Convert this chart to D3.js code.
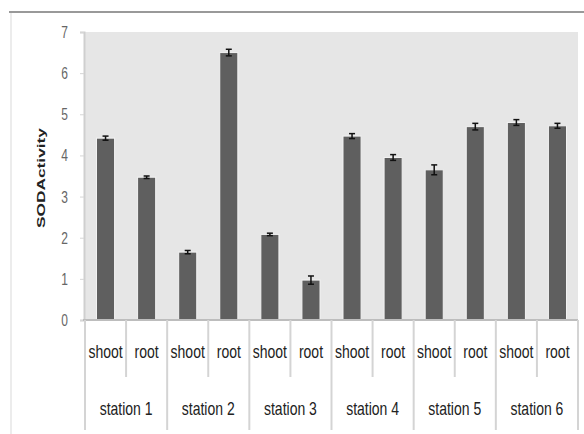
<!DOCTYPE html>
<html>
<head>
<meta charset="utf-8">
<script src="https://cdn.jsdelivr.net/npm/d3@7"></script>
<style>
  body { margin: 0; background: #fff; }
  svg text { font-family: "Liberation Sans Narrow", "Liberation Sans", Arial, sans-serif; }
</style>
</head>
<body>
<div id="chart"></div>
<script>
// chart data
var stations = ["station 1", "station 2", "station 3", "station 4", "station 5", "station 6"];
var parts = ["shoot", "root"];
var values = [4.42, 3.47, 1.65, 6.5, 2.08, 0.97, 4.47, 3.95, 3.65, 4.7, 4.8, 4.72];
var errors = [0.05, 0.03, 0.04, 0.08, 0.03, 0.1, 0.06, 0.07, 0.12, 0.08, 0.07, 0.06];
var yTicks = [0, 1, 2, 3, 4, 5, 6, 7];
var yLabel = "SODActivity";

var W = 584, H = 434;
var plot = {left: 85, right: 578, top: 32, bottom: 320};

var svg = d3.select("#chart").append("svg")
    .attr("width", W)
    .attr("height", H);

// frame lines of the picture
svg.append("line")
    .attr("x1", 9).attr("x2", W)
    .attr("y1", 12).attr("y2", 12)
    .style("stroke", "#999").style("stroke-width", 2);
svg.append("line")
    .attr("x1", 11).attr("x2", 11)
    .attr("y1", 13).attr("y2", H)
    .style("stroke", "#ececec").style("stroke-width", 2);

// one key per bar
var keys = [];
stations.forEach(function(s, i) {
    parts.forEach(function(p, j) { keys.push(i + "-" + j); });
});

var x = d3.scaleBand()
    .domain(keys)
    .range([plot.left, plot.right])
    .paddingInner(0.56)
    .paddingOuter(0.28);

var y = d3.scaleLinear()
    .domain([0, 7])
    .range([plot.bottom, plot.top]);

// plot background
svg.append("rect")
    .attr("x", plot.left).attr("y", plot.top)
    .attr("width", plot.right - plot.left)
    .attr("height", plot.bottom - plot.top)
    .style("fill", "#e6e6e6");

// y axis
var yAxis = svg.append("g")
    .attr("transform", "translate(" + (plot.left - 1) + ",0)")
    .call(d3.axisLeft(y).tickValues(yTicks).tickFormat(d3.format("d"))
        .tickSize(4).tickPadding(12));
yAxis.select(".domain").style("stroke", "#cfcfcf").style("stroke-width", 2);
yAxis.selectAll(".tick line").style("stroke", "#d6d6d6");
yAxis.selectAll(".tick text")
    .style("fill", "#666")
    .style("font-size", "12px")
    .attr("dy", "0.35em")
    .attr("transform", "scale(1,1.3)");

// y label
svg.append("text")
    .attr("transform", "translate(45," + ((plot.top + plot.bottom) / 2 + 2) + ") rotate(-90)")
    .attr("text-anchor", "middle")
    .attr("textLength", 100)
    .attr("lengthAdjust", "spacingAndGlyphs")
    .style("font-size", "11px")
    .style("font-weight", "bold")
    .style("fill", "#222")
    .text(yLabel);

// bars
var bars = svg.append("g");
bars.selectAll("rect")
    .data(values)
    .enter().append("rect")
    .attr("x", function(d, i) { return x(keys[i]); })
    .attr("y", function(d) { return y(d); })
    .attr("width", x.bandwidth())
    .attr("height", function(d) { return y(0) - y(d); })
    .style("fill", "#5f5f5f")
    .style("stroke", "#f2f2f2")
    .style("stroke-width", 1);

// error bars
var err = svg.append("g").style("stroke", "#111").style("stroke-width", 1.5);
values.forEach(function(v, i) {
    var cx = x(keys[i]) + x.bandwidth() / 2;
    err.append("line")
        .attr("x1", cx).attr("x2", cx)
        .attr("y1", y(v - errors[i])).attr("y2", y(v + errors[i]));
    [v - errors[i], v + errors[i]].forEach(function(e) {
        err.append("line")
            .attr("x1", cx - 3).attr("x2", cx + 3)
            .attr("y1", y(e)).attr("y2", y(e));
    });
});

// x axis baseline
svg.append("line")
    .attr("x1", plot.left - 2).attr("x2", plot.right)
    .attr("y1", plot.bottom).attr("y2", plot.bottom)
    .style("stroke", "#bdbdbd").style("stroke-width", 2);

// separators between categories
var step = x.step();
var sep = svg.append("g").style("stroke", "#d4d4d4").style("stroke-width", 2);
for (var i = 0; i <= keys.length; i++) {
    var sx = plot.left + i * step;
    sep.append("line")
        .attr("x1", sx).attr("x2", sx)
        .attr("y1", plot.bottom)
        .attr("y2", i % parts.length === 0 ? 430 : 377);
}

// sub category labels
var labels = svg.append("g").style("font-size", "14px").style("fill", "#222");
keys.forEach(function(k, i) {
    var cx = plot.left + (i + 0.5) * step;
    labels.append("text")
        .attr("text-anchor", "middle")
        .attr("transform", "translate(" + cx + ",358) scale(1,1.3)")
        .text(parts[i % parts.length]);
});

// station labels
stations.forEach(function(s, i) {
    var cx = plot.left + (i + 0.5) * step * parts.length;
    labels.append("text")
        .attr("text-anchor", "middle")
        .attr("transform", "translate(" + cx + ",415) scale(1,1.3)")
        .text(s);
});
</script>
</body>
</html>
